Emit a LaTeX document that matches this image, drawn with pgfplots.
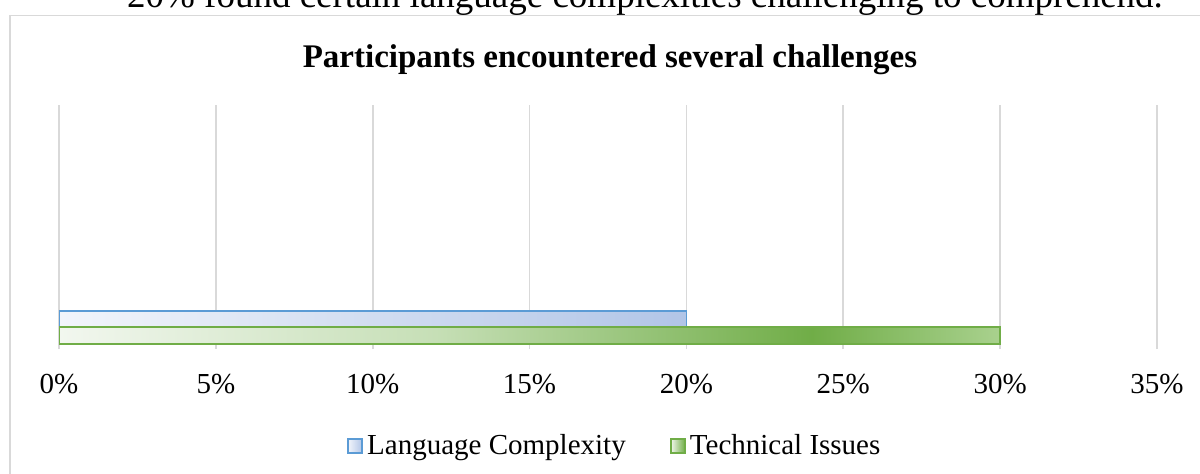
\documentclass[border=0pt]{standalone}
\usepackage{fontspec}
\setmainfont{Liberation Serif}
\usepackage{pgfplots}
\pgfplotsset{compat=1.18}

\definecolor{gridgray}{HTML}{D9D9D9}
\definecolor{blueedge}{HTML}{5B9BD5}
\definecolor{greenedge}{HTML}{70AD47}
\definecolor{bluelo}{HTML}{F2F5FB}
\definecolor{bluehi}{HTML}{B1C5E7}
\definecolor{greenlo}{HTML}{F2F7EF}
\definecolor{greenmid}{HTML}{C6DFB6}
\definecolor{greendark}{HTML}{70AD47}
\definecolor{greenend}{HTML}{A9D18E}

% bar runs from 25bp to 75bp of the shading
\pgfdeclarehorizontalshading{bluegrad}{100bp}{color(0bp)=(bluelo); color(25bp)=(bluelo); color(75bp)=(bluehi); color(100bp)=(bluehi)}
\pgfdeclarehorizontalshading{greengrad}{100bp}{color(0bp)=(greenlo); color(25bp)=(greenlo); color(45bp)=(greenmid); color(65bp)=(greendark); color(75bp)=(greenend); color(100bp)=(greenend)}

\begin{document}
\begin{tikzpicture}
\useasboundingbox (0,0) rectangle (600pt,236.5pt);
\clip (0,0) rectangle (600pt,236.5pt);

% text of the page above the chart, cut off
\node[anchor=base, inner sep=0pt, font=\fontsize{18.5pt}{22pt}\selectfont]
  at (322.5pt,233pt) {20\% found certain language complexities challenging to comprehend.};

% chart frame
\draw[gridgray, line width=0.75pt] (5pt,-10pt) -- (5pt,228.75pt) -- (620pt,228.75pt);

% title
\node[anchor=base, inner sep=0pt, font=\fontsize{16.5pt}{20pt}\selectfont\bfseries]
  at (305pt,203pt) {Participants encountered several challenges};

\begin{axis}[
    at={(29.5pt,62pt)}, anchor=south west,
    scale only axis, width=549pt, height=122pt,
    xmin=0, xmax=35, ymin=0, ymax=1,
    xtick={0,5,...,35}, ytick=\empty,
    xmajorgrids, major grid style={gridgray, line width=0.9pt},
    axis line style={draw=none}, tick style={draw=none},
    xticklabel={\pgfmathprintnumber{\tick}\%},
    /pgf/number format/assume math mode=true,
    xticklabel style={anchor=base, yshift=-22pt, font=\fontsize{14.5pt}{17pt}\selectfont},
    xbar, bar width=8.3pt, bar shift=0pt,
    legend columns=-1,
    legend style={at={(0.507,0)}, anchor=center, yshift=-48.5pt, draw=none,
      font=\fontsize{14.5pt}{17pt}\selectfont,
      /tikz/every even column/.append style={column sep=20pt}},
]
\addplot[draw=blueedge, line width=0.9pt, shading=bluegrad,
  legend image code/.code={\draw[draw=blueedge, line width=0.9pt, shading=bluegrad]
    (0pt,-3.6pt) rectangle (7.2pt,3.6pt);}]
  coordinates {(20,0.123)};
\addplot[draw=greenedge, line width=0.9pt, shading=greengrad,
  legend image code/.code={\draw[draw=greenedge, line width=0.9pt, left color=greenlo, right color=greendark]
    (0pt,-3.6pt) rectangle (7.2pt,3.6pt);}]
  coordinates {(30,0.056)};
\legend{Language Complexity, Technical Issues}
\end{axis}
\end{tikzpicture}
\end{document}
